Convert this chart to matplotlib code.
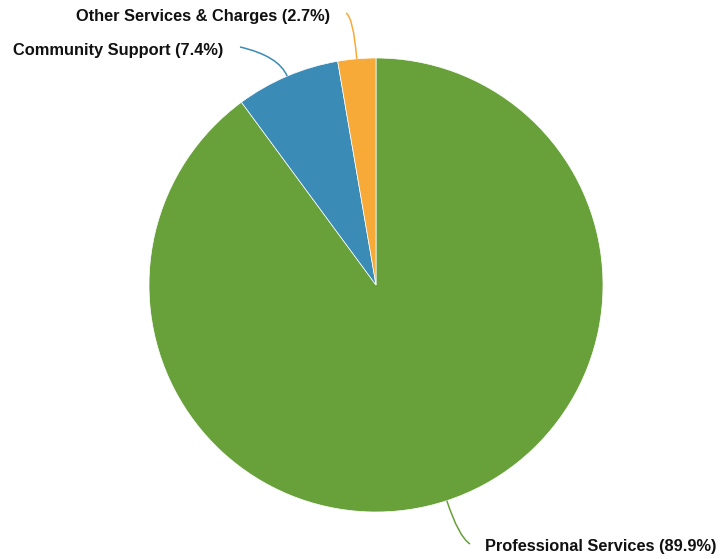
import numpy as np
import matplotlib.pyplot as plt
from matplotlib.path import Path
from matplotlib.patches import PathPatch

plt.rcParams['font.family'] = ['Liberation Sans', 'DejaVu Sans']

categories = ['Professional Services', 'Community Support', 'Other Services & Charges']
shares = [89.9, 7.4, 2.7]
colors = ['#68A03A', '#3B8BB7', '#F7AA38']

W, H = 720, 559
cx, cy, r = 376, H - 285, 227

fig = plt.figure(figsize=(W / 100, H / 100), dpi=100)
ax = fig.add_axes([0, 0, 1, 1])
ax.set_xlim(0, W)
ax.set_ylim(0, H)
ax.set_aspect('equal')
ax.axis('off')

wedges, _ = ax.pie(shares, colors=colors, startangle=90, counterclock=False,
                   center=(cx, cy), radius=r,
                   wedgeprops=dict(edgecolor='white', linewidth=0.5))
ax.set_xlim(0, W)
ax.set_ylim(0, H)

# label text anchor (x, y, ha) and how far the connector runs out radially
label_pos = [(485, H - 547, 'left', 38), (223, H - 50, 'right', 22), (330, H - 17, 'right', 42)]
line_end = [(470, H - 544), (240, H - 47), (346, H - 13)]

for w, name, pct, col, (tx, ty, ha, ext), (ex, ey) in zip(wedges, categories, shares, colors,
                                                          label_pos, line_end):
    mid = np.deg2rad((w.theta1 + w.theta2) / 2)
    sx, sy = cx + r * np.cos(mid), cy + r * np.sin(mid)
    qx, qy = cx + (r + ext) * np.cos(mid), cy + (r + ext) * np.sin(mid)
    path = Path([(sx, sy), (qx, qy), (ex, ey)], [Path.MOVETO, Path.CURVE3, Path.CURVE3])
    ax.add_patch(PathPatch(path, fc='none', ec=col, lw=1.1))
    ax.text(tx, ty, f'{name} ({pct}%)', ha=ha, va='center', fontsize=11.8,
            fontweight='bold', color='#111111')

fig.savefig('out.png', dpi=100)
